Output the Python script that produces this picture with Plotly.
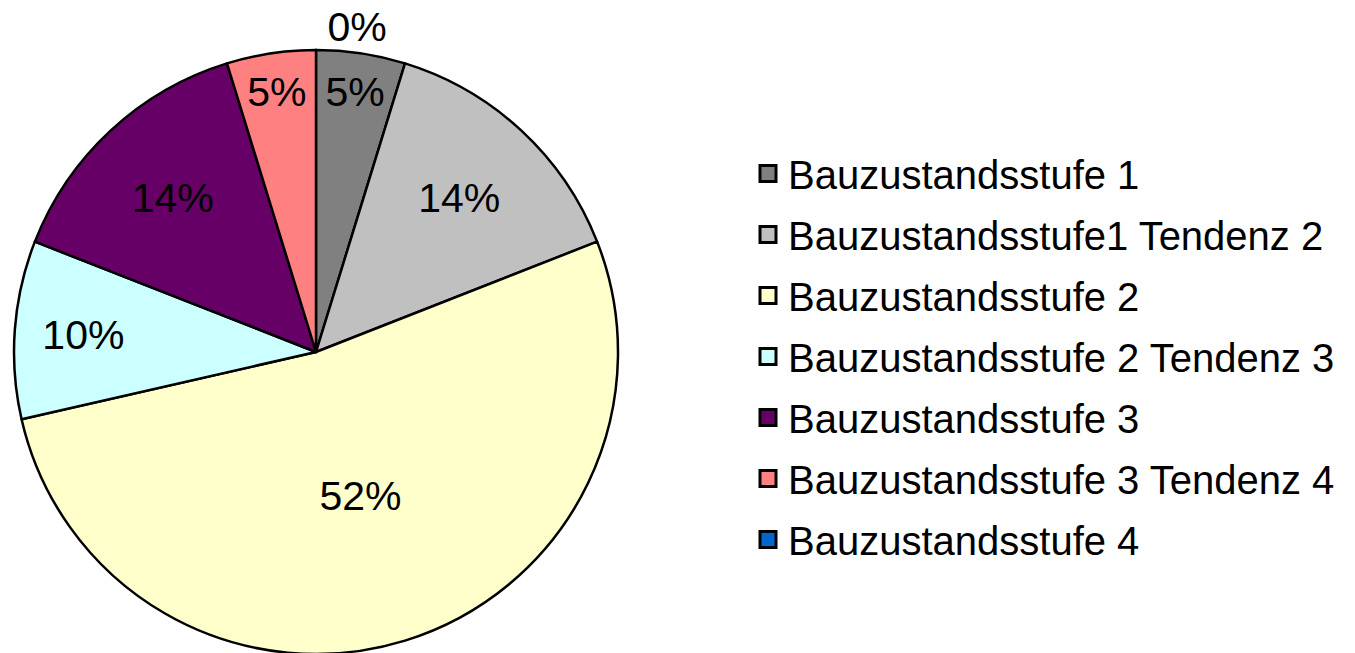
import plotly.graph_objects as go

categories = [
    "Bauzustandsstufe 1",
    "Bauzustandsstufe1 Tendenz 2",
    "Bauzustandsstufe 2",
    "Bauzustandsstufe 2 Tendenz 3",
    "Bauzustandsstufe 3",
    "Bauzustandsstufe 3 Tendenz 4",
    "Bauzustandsstufe 4",
]
counts = [1, 3, 11, 2, 3, 1, 0]
colors = ["#808080", "#C0C0C0", "#FFFFCC", "#CCFFFF", "#660066", "#FF8080", "#0066CC"]

FONT = "Arial, Liberation Sans, sans-serif"

# The empty last category sits at 12 o'clock, where the first slice starts;
# the pie is drawn starting from it so its "0%" label falls right of the top.
order = [len(categories) - 1] + list(range(len(categories) - 1))
pie_labels = [categories[i] for i in order]
pie_values = [counts[i] for i in order]
pie_colors = [colors[i] for i in order]
pie_textpos = ["outside" if counts[i] == 0 else "inside" for i in order]

fig = go.Figure()
fig.add_trace(go.Pie(
    labels=pie_labels,
    values=pie_values,
    sort=False,
    direction="clockwise",
    rotation=0,
    marker=dict(colors=pie_colors, line=dict(color="black", width=2.5)),
    textinfo="percent",
    texttemplate="%{percent:.0%}",
    textposition=pie_textpos,
    insidetextorientation="horizontal",
    textfont=dict(family=FONT, size=41, color="black"),
    automargin=False,
    showlegend=False,
    domain=dict(x=[0, 616 / 1355], y=[0, 1]),
    hoverinfo="label+percent",
))

for name, col in zip(categories, colors):
    fig.add_trace(go.Scatter(
        x=[None], y=[None], mode="markers", name=name,
        legendgroup=name,
        marker=dict(symbol="square", size=16, color=col, line=dict(color="black", width=3)),
    ))

fig.update_layout(
    width=1355, height=653,
    margin=dict(l=0, r=0, t=42, b=7, autoexpand=False),
    paper_bgcolor="white", plot_bgcolor="white",
    xaxis=dict(visible=False), yaxis=dict(visible=False),
    legend=dict(
        x=740 / 1355, xanchor="left", y=1 - (133 - 42) / 604, yanchor="top",
        font=dict(family=FONT, size=40, color="black"),
        tracegroupgap=6, bgcolor="rgba(0,0,0,0)",
    ),
)

fig.write_html("out.html")
